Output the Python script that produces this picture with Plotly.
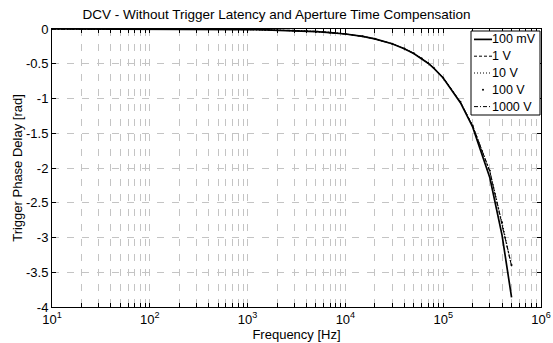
import plotly.graph_objects as go

# Frequency sweep points [Hz]
freq_hz = [10, 20, 50, 100, 200, 500, 1000, 1500, 2000, 3000, 4000, 5000, 7000,
           10000, 15000, 20000, 30000, 40000, 50000, 60000, 70000, 80000,
           100000, 150000, 200000, 300000, 400000, 500000]

# Trigger phase delay [rad] per DCV range
phase_100mV = [0.000, -0.000, -0.001, -0.002, -0.003, -0.005, -0.009, -0.012, -0.016,
               -0.023, -0.030, -0.037, -0.051, -0.072, -0.107, -0.143, -0.213, -0.283,
               -0.352, -0.422, -0.492, -0.562, -0.705, -1.060, -1.410, -2.140, -2.970, -3.860]
phase_1V = [0.000, -0.000, -0.001, -0.002, -0.003, -0.005, -0.010, -0.006, -0.022,
            -0.017, -0.036, -0.031, -0.056, -0.071, -0.106, -0.142, -0.212, -0.281,
            -0.350, -0.420, -0.489, -0.559, -0.700, -1.050, -1.390, -2.050, -2.790, -3.410]
phase_10V = [0.000, -0.000, -0.001, -0.002, -0.003, -0.006, -0.008, -0.015, -0.013,
             -0.028, -0.025, -0.042, -0.047, -0.073, -0.107, -0.143, -0.213, -0.282,
             -0.351, -0.421, -0.490, -0.560, -0.702, -1.052, -1.392, -2.045, -2.785, -3.400]
phase_100V = [0.000, -0.000, -0.001, -0.002, -0.003, -0.004, -0.011, -0.010, -0.019,
              -0.026, -0.033, -0.040, -0.053, -0.072, -0.106, -0.142, -0.212, -0.281,
              -0.350, -0.420, -0.489, -0.559, -0.700, -1.048, -1.388, -2.040, -2.780, -3.395]
phase_1000V = [0.000, -0.000, -0.001, -0.002, -0.003, -0.005, -0.009, -0.013, -0.017,
               -0.022, -0.031, -0.036, -0.050, -0.071, -0.106, -0.142, -0.212, -0.282,
               -0.351, -0.421, -0.490, -0.560, -0.701, -1.051, -1.391, -2.050, -2.795, -3.415]

range_labels = ["100 mV", "1 V", "10 V", "100 V", "1000 V"]

# Axis ticks
x_tick_vals = [1e1, 1e2, 1e3, 1e4, 1e5, 1e6]
x_tick_text = ["10<sup>1</sup>", "10<sup>2</sup>", "10<sup>3</sup>",
               "10<sup>4</sup>", "10<sup>5</sup>", "10<sup>6</sup>"]
y_tick_vals = [0, -0.5, -1, -1.5, -2, -2.5, -3, -3.5, -4]
y_tick_text = ["0", "-0.5", "-1", "-1.5", "-2", "-2.5", "-3", "-3.5", "-4"]

# minor ticks at 2..9 x each decade
x_minor_vals = [m * dec for dec in x_tick_vals[:-1] for m in range(2, 10)]

FONT = "Liberation Sans, Arial, Helvetica, sans-serif"
GRID = dict(gridcolor="#c4c4c4", gridwidth=1, griddash="7px,8px")

W, H = 553, 343
M_L, M_R, M_T, M_B = 52, 12, 29, 36
PLOT_W, PLOT_H = W - M_L - M_R, H - M_T - M_B


def px_x(px):
    """Pixel column -> paper x."""
    return (px - M_L) / PLOT_W


def px_y(py):
    """Pixel row -> paper y."""
    return (H - M_B - py) / PLOT_H


fig = go.Figure()
series = [phase_100mV, phase_1V, phase_10V, phase_100V, phase_1000V]
line_styles = [
    dict(color="black", width=1.7, dash="solid"),
    dict(color="black", width=1, dash="3px,2px"),
    dict(color="black", width=1, dash="1px,2px"),
    None,  # 100 V range drawn as point markers only
    dict(color="black", width=1, dash="4px,2px,1px,2px"),
]
for name, ys, ls in zip(range_labels, series, line_styles):
    if ls is None:
        fig.add_trace(go.Scatter(x=freq_hz, y=ys, name=name, mode="markers",
                                 marker=dict(color="black", size=2)))
    else:
        fig.add_trace(go.Scatter(x=freq_hz, y=ys, name=name, mode="lines", line=ls))

# Compact boxed legend in the upper right corner
LEG_L, LEG_R, LEG_T, LEG_B = 471, 540, 31, 115
fig.add_shape(type="rect", xref="paper", yref="paper",
              x0=px_x(LEG_L), x1=px_x(LEG_R), y0=px_y(LEG_B), y1=px_y(LEG_T),
              line=dict(color="black", width=1), fillcolor="white", layer="above")
row_h = (LEG_B - LEG_T) / len(range_labels)
for i, (name, ls) in enumerate(zip(range_labels, line_styles)):
    cy = LEG_T + row_h * (i + 0.5)
    if ls is None:
        fig.add_shape(type="circle", xref="paper", yref="paper",
                      x0=px_x(482), x1=px_x(484), y0=px_y(cy + 1), y1=px_y(cy - 1),
                      fillcolor="black", line=dict(width=0), layer="above")
    else:
        fig.add_shape(type="line", xref="paper", yref="paper",
                      x0=px_x(474), x1=px_x(492), y0=px_y(cy), y1=px_y(cy),
                      line=ls, layer="above")
    fig.add_annotation(text=name, xref="paper", yref="paper",
                       x=px_x(490.5), y=px_y(cy), xanchor="left", yanchor="middle",
                       showarrow=False, borderpad=0,
                       font=dict(family=FONT, size=12.5, color="black"))

fig.update_xaxes(
    type="log", range=[1, 6],
    tickmode="array", tickvals=x_tick_vals, ticktext=x_tick_text,
    ticks="inside", ticklen=4, tickcolor="black", tickwidth=1,
    minor=dict(tickmode="array", tickvals=x_minor_vals, ticks="inside", ticklen=4,
               tickcolor="black", showgrid=True, **GRID),
    showline=True, linecolor="black", linewidth=1, mirror="ticks",
    zeroline=False, showgrid=True, **GRID,
    tickfont=dict(family=FONT, size=13, color="black"),
    title=dict(text="Frequency [Hz]", font=dict(family=FONT, size=13, color="black"),
               standoff=2),
)
fig.update_yaxes(
    range=[-4, 0],
    tickmode="array", tickvals=y_tick_vals, ticktext=y_tick_text,
    ticks="inside", ticklen=4, tickcolor="black", tickwidth=1,
    showline=True, linecolor="black", linewidth=1, mirror="ticks",
    zeroline=False, showgrid=True, **GRID,
    tickfont=dict(family=FONT, size=13, color="black"),
    title=dict(text="Trigger Phase Delay [rad]", font=dict(family=FONT, size=13, color="black"),
               standoff=0),
)

fig.update_layout(
    width=W, height=H,
    margin=dict(l=M_L, r=M_R, t=M_T, b=M_B, autoexpand=False),
    paper_bgcolor="white", plot_bgcolor="white",
    font=dict(family=FONT, size=13, color="black"),
    title=dict(text="DCV - Without Trigger Latency and Aperture Time Compensation",
               x=0.5, xanchor="center", y=1 - 14 / H, yanchor="middle",
               font=dict(family=FONT, size=13.5, color="black")),
    showlegend=False,
)

fig.write_html("out.html")
